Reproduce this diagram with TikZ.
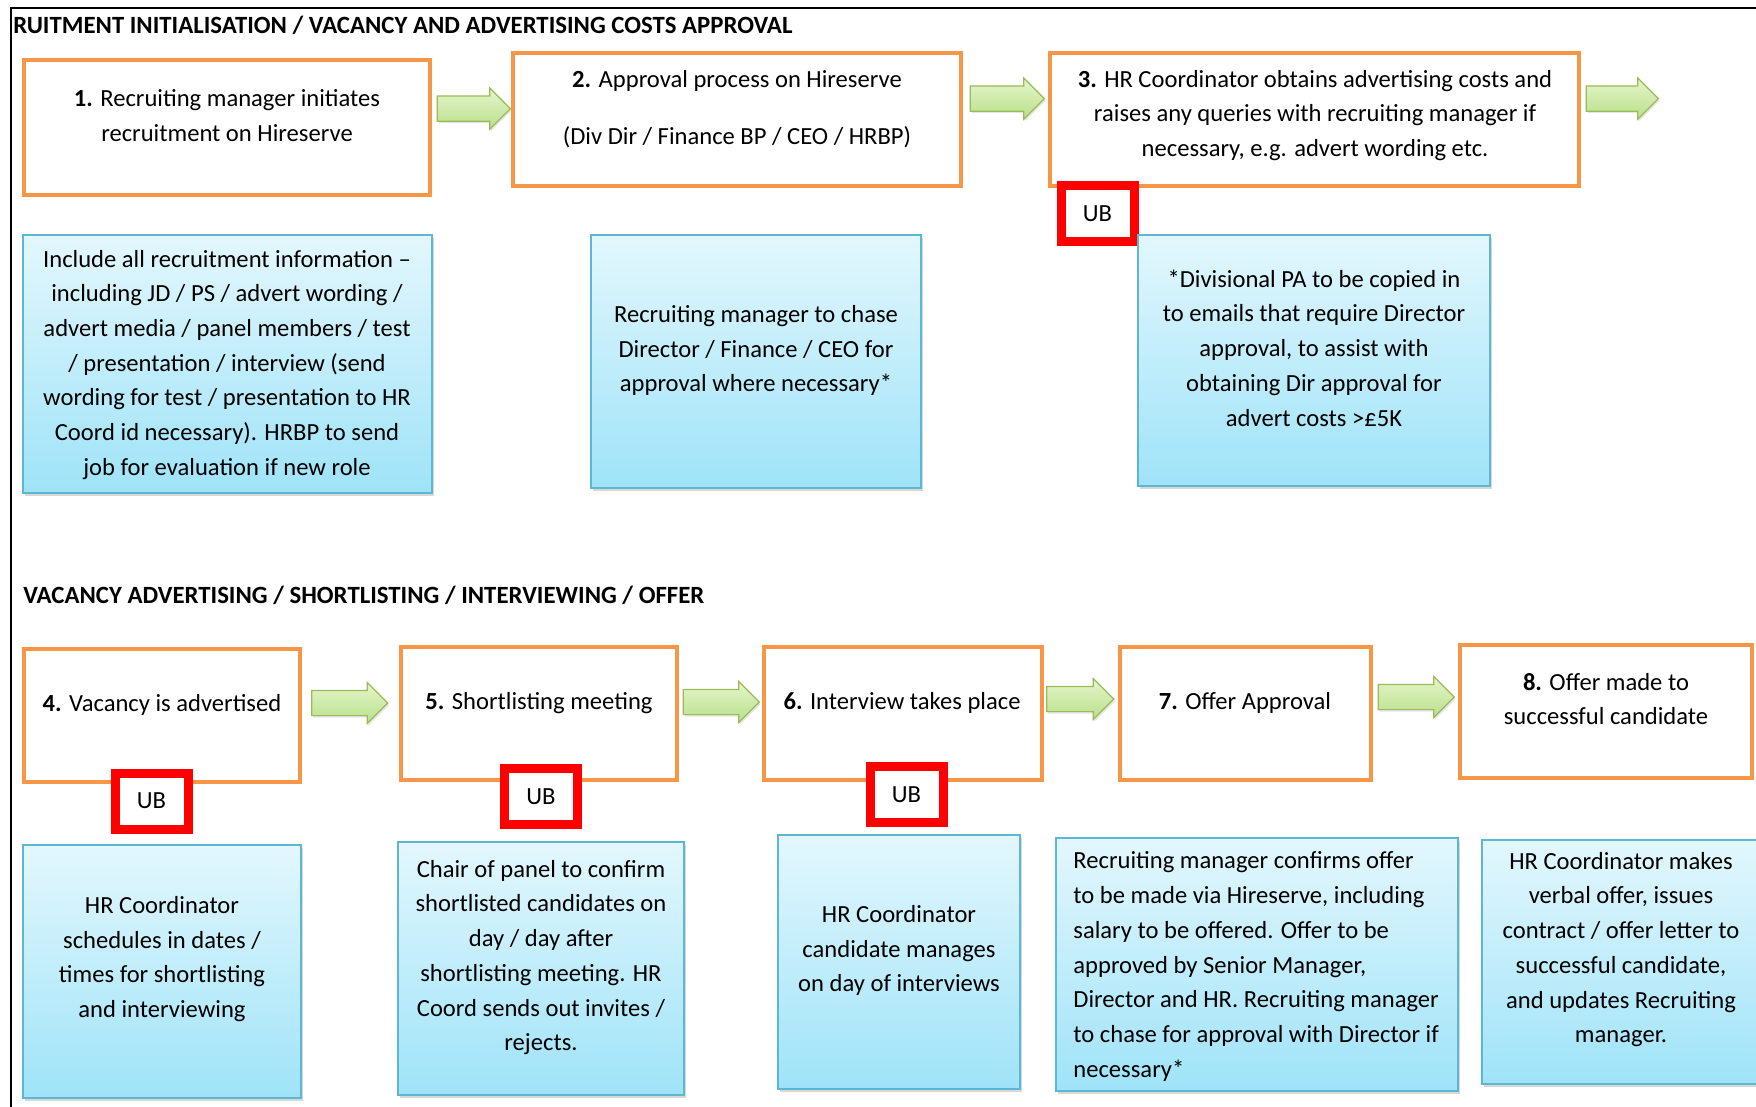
\documentclass[tikz,border=0pt]{standalone}
\usepackage{fontspec}
\setmainfont{Carlito}
\usetikzlibrary{shapes.arrows,shadows,fit}
\definecolor{orng}{HTML}{F79646}
\definecolor{bluebd}{HTML}{5CB8D2}
\definecolor{bluetop}{HTML}{E3F7FD}
\definecolor{bluebot}{HTML}{9FE3F8}
\definecolor{grtop}{HTML}{E6F5CC}
\definecolor{grbot}{HTML}{B8E08A}
\definecolor{grbd}{HTML}{9BBB59}
\begin{document}
\begin{tikzpicture}[x=0.5pt,y=-0.5pt,
  obox/.style={draw=orng, line width=1.75pt, fill=white, inner sep=0pt,
    drop shadow={shadow xshift=0.8pt, shadow yshift=-1pt, opacity=0.2}},
  bbox/.style={draw=bluebd, line width=0.8pt, top color=bluetop, bottom color=bluebot, inner sep=0pt,
    drop shadow={shadow xshift=1pt, shadow yshift=-1.5pt, opacity=0.3}},
  ub/.style={draw=red, line width=4.5pt, fill=white, inner sep=0pt, minimum width=36.5pt, minimum height=28pt,
    font=\fontsize{12.3}{14}\selectfont},
  garrow/.style={single arrow, draw=grbd, line width=0.6pt, top color=grtop, bottom color=grbot,
    inner xsep=0pt, inner ysep=6pt, single arrow head extend=4pt,
    drop shadow={shadow xshift=0.6pt, shadow yshift=-1pt, opacity=0.2}},
  txt/.style={align=center, inner sep=0pt, font=\fontsize{12.3}{17.36}\selectfont},
  ttl/.style={anchor=west, inner sep=0pt, font=\bfseries\fontsize{12.4}{14}\selectfont}
]
\useasboundingbox (0,0) rectangle (1756,1107);
\fill[white] (0,0) rectangle (1756,1107);
\draw[line width=1pt] (11,1110) -- (11,8) -- (1760,8);

\node[ttl] (title1) at (13,25) {RUITMENT INITIALISATION / VACANCY AND ADVERTISING COSTS APPROVAL};
\node[ttl] (title2) at (23,595.5) {VACANCY ADVERTISING / SHORTLISTING / INTERVIEWING / OFFER};

% top row boxes
\node[obox, fit={(24,60) (430,195)}] (b1) {};
\node[obox, fit={(513,53) (961,186)}] (b2) {};
\node[obox, fit={(1050,53) (1579,186)}] (b3) {};
\node[txt] (t1) at (227,115.5) {\textbf{1.} Recruiting manager initiates\\recruitment on Hireserve};
\node[txt] (t2) at (737,109.5) {\textbf{2.} Approval process on Hireserve\\[11pt](Div Dir / Finance BP / CEO / HRBP)};
\node[txt] (t3) at (1315,115.5) {\textbf{3.} HR Coordinator obtains advertising costs and\\raises any queries with recruiting manager if\\necessary, e.g. advert wording etc.};

\node[garrow, minimum height=36.5pt] (a1) at (467.5,108.6) {};
\node[garrow, minimum height=37pt] (a2) at (1001,98.6) {};
\node[garrow, minimum height=36pt] (a3) at (1616,98.6) {};

\node[ub] (ub3) at (1097.5,213.5) {UB};

% top row notes
\node[bbox, fit={(23,235) (432,493)}] (n1) {};
\node[bbox, fit={(591,235) (921,488)}] (n2) {};
\node[bbox, fit={(1138,235) (1490,486)}] (n3) {};
\node[txt] (m1) at (227,364.8) {Include all recruitment information --\\including JD / PS / advert wording /\\advert media / panel members / test\\/ presentation / interview (send\\wording for test / presentation to HR\\Coord id necessary). HRBP to send\\job for evaluation if new role};
\node[txt] (m2) at (756,350.5) {Recruiting manager to chase\\Director / Finance / CEO for\\approval where necessary*};
\node[txt] (m3) at (1314,348) {*Divisional PA to be copied in\\to emails that require Director\\approval, to assist with\\obtaining Dir approval for\\advert costs >£5K};

% bottom row boxes
\node[obox, fit={(24,649) (300,782)}] (b4) {};
\node[obox, fit={(401,647) (677,780)}] (b5) {};
\node[obox, fit={(764,647) (1042,780)}] (b6) {};
\node[obox, fit={(1120,647) (1371,780)}] (b7) {};
\node[obox, fit={(1460,645) (1752,778)}] (b8) {};
\node[txt] (t4) at (162,704.5) {\textbf{4.} Vacancy is advertised};
\node[txt] (t5) at (539,703) {\textbf{5.} Shortlisting meeting};
\node[txt] (t6) at (902,703) {\textbf{6.} Interview takes place};
\node[txt] (t7) at (1245,703) {\textbf{7.} Offer Approval};
\node[txt] (t8) at (1606,699) {\textbf{8.} Offer made to\\successful candidate};

\node[garrow, minimum height=38pt] (a4) at (343.5,703) {};
\node[garrow, minimum height=38pt] (a5) at (715,702) {};
\node[garrow, minimum height=33.5pt] (a6) at (1074,699) {};
\node[garrow, minimum height=38pt] (a7) at (1410,697) {};

\node[ub] (ub4) at (151.5,801) {UB};
\node[ub] (ub5) at (541,796.5) {UB};
\node[ub] (ub6) at (906.5,794.5) {UB};

% bottom row notes
\node[bbox, fit={(23,845) (301,1098)}] (n4) {};
\node[bbox, fit={(398,842) (684,1095)}] (n5) {};
\node[bbox, fit={(778,835) (1020,1089)}] (n6) {};
\node[bbox, fit={(1056,838) (1458,1091)}] (n7) {};
\node[bbox, fit={(1482,840) (1780,1084)}] (n8) {};
\node[txt] (m4) at (162,959) {HR Coordinator\\schedules in dates /\\times for shortlisting\\and interviewing};
\node[txt] (m5) at (541,957.5) {Chair of panel to confirm\\shortlisted candidates on\\day / day after\\shortlisting meeting. HR\\Coord sends out invites /\\rejects.};
\node[txt] (m6) at (899,950.5) {HR Coordinator\\candidate manages\\on day of interviews};
\node[txt, align=left, anchor=west] (m7) at (1073,966.5) {Recruiting manager confirms offer\\to be made via Hireserve, including\\salary to be offered. Offer to be\\approved by Senior Manager,\\Director and HR. Recruiting manager\\to chase for approval with Director if\\necessary*};
\node[txt] (m8) at (1621,949.5) {HR Coordinator makes\\verbal offer, issues\\contract / offer letter to\\successful candidate,\\and updates Recruiting\\manager.};
\end{tikzpicture}
\end{document}
